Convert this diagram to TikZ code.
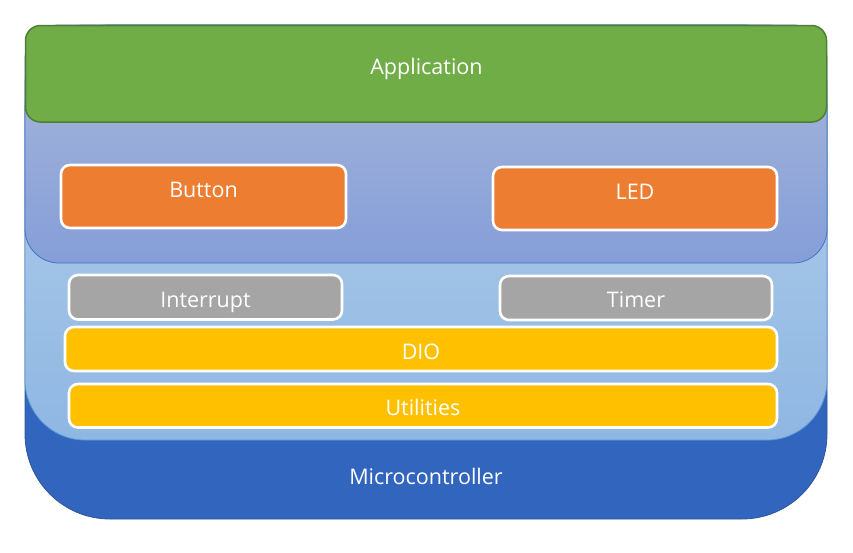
\documentclass[tikz,border=0pt]{standalone}
\usepackage{fontspec}
\setmainfont{Open Sans}
\definecolor{mcblue}{RGB}{49,101,190}
\definecolor{mcedge}{RGB}{47,85,151}
\definecolor{lbtop}{RGB}{183,209,234}
\definecolor{lbbot}{RGB}{143,183,227}
\definecolor{lbedge}{RGB}{91,155,213}
\definecolor{putop}{RGB}{170,185,218}
\definecolor{pubot}{RGB}{133,158,216}
\definecolor{puedge}{RGB}{68,114,196}
\definecolor{appgreen}{RGB}{112,173,71}
\definecolor{appedge}{RGB}{80,126,50}
\definecolor{drvorange}{RGB}{237,125,49}
\definecolor{halgray}{RGB}{165,165,165}
\definecolor{halgold}{RGB}{255,192,0}
\begin{document}
\begin{tikzpicture}[x=1pt,y=-1pt,
  blk/.style={draw=white, line width=2.6pt, rounded corners=9pt},
  lbl/.style={text=white, font=\fontsize{21.5}{25}\selectfont, inner sep=0pt, anchor=base},
]
\useasboundingbox (0,0) rectangle (853,552);
% layers
\path[fill=mcblue, draw=mcedge, line width=0.8pt, rounded corners=85pt] (25,25) rectangle (827,519);
\path[top color=lbtop, bottom color=lbbot, draw=lbedge, line width=0.8pt, rounded corners=60pt] (25,25) rectangle (827,440);
\path[top color=putop, bottom color=pubot, draw=puedge, line width=0.8pt, rounded corners=34pt] (25,25) rectangle (827,263);
\path[fill=appgreen, draw=appedge, line width=1.5pt, rounded corners=15pt] (25.5,25.5) rectangle (826.5,122);
% blocks
\path[blk, fill=drvorange] (61,165) rectangle (346,228);
\path[blk, fill=drvorange] (493,167) rectangle (777,230);
\path[blk, fill=halgray] (69,275) rectangle (342,319.5);
\path[blk, fill=halgray] (500,276) rectangle (772,320);
\path[blk, fill=halgold] (65,327) rectangle (777,371);
\path[blk, fill=halgold] (69,384) rectangle (777,427.5);
% labels
\node[lbl] (app) at (426.5,74.3) {Application};
\node[lbl] (button) at (203.5,197.3) {Button};
\node[lbl] (led) at (635,199.3) {LED};
\node[lbl] (interrupt) at (205.5,307.3) {Interrupt};
\node[lbl] (timer) at (636,307.3) {Timer};
\node[lbl] (dio) at (421,359.3) {DIO};
\node[lbl] (util) at (423,415.7) {Utilities};
\node[lbl] (mcu) at (426,484.3) {Microcontroller};
\end{tikzpicture}
\end{document}
